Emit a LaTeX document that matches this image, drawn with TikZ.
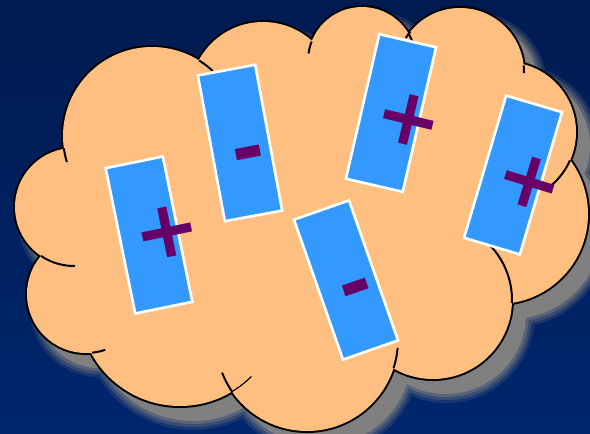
\documentclass[tikz,border=0pt]{standalone}
\usepackage{fontspec}
\setmainfont{DejaVu Sans}
\usepackage{xcolor}
\definecolor{fondoarriba}{HTML}{001B50}
\definecolor{fondoabajo}{HTML}{00266E}
\definecolor{nube}{HTML}{FFBF80}
\definecolor{azul}{HTML}{3399FF}
\definecolor{morado}{HTML}{660066}
\definecolor{sombra}{HTML}{808080}

% circulos de la nube: x/y/radio
\def\circulos{152/136/89, 263/95/73, 362/61/54, 460/72/64, 506/132/70,
  498/214/90, 433/300/79, 307/340/91, 180/305/101, 86/294/59, 74/207/59}

\begin{document}
\begin{tikzpicture}[
  x=0.3mm, y=0.3mm,
  tarjeta/.style={rectangle, draw=white, line width=0.8mm, fill=azul,
    minimum width=17.5mm, minimum height=44.5mm, inner sep=0pt},
  signo/.style={text=morado, font=\bfseries\fontsize{68}{68}\selectfont, inner sep=0pt},
  borde/.style={line width=0.6mm, black},
]

% --- Fondo ---
\fill[top color=fondoarriba, bottom color=fondoabajo] (0,0) rectangle (590,-433);
\useasboundingbox (0,0) rectangle (590,-433);

% --- Sombra ---
\begin{scope}[shift={(13,-14)}]
  \foreach \extra/\op in {10/0.2, 7/0.3, 4/0.45} {
    \fill[sombra, opacity=\op] \foreach \cx/\cy/\r in \circulos {(\cx,-\cy) circle ({\r+\extra})};
  }
  \fill[sombra] \foreach \cx/\cy/\r in \circulos {(\cx,-\cy) circle ({\r+1})};
\end{scope}

% --- Nube ---
\draw[line width=1.2mm] \foreach \cx/\cy/\r in \circulos {(\cx,-\cy) circle (\r)};
\fill[nube] \foreach \cx/\cy/\r in \circulos {(\cx,-\cy) circle (\r)}
  (74,-207) -- (86,-294) -- (180,-305) -- (307,-340) -- (433,-300) -- (498,-214)
  -- (506,-132) -- (460,-72) -- (362,-61) -- (263,-95) -- (152,-136) -- cycle;

% --- Arcos interiores ---
\foreach \cx/\cy/\r/\a/\b in {152/136/89/188/197, 152/136/89/58/47, 74/207/59/236/271,
    86/294/59/276/289, 307/340/91/201/215, 307/340/91/342/355, 433/300/79/-2/48,
    506/132/70/-24/-49, 460/72/64/6/-1, 362/61/54/31/21, 460/72/64/141/148,
    362/61/54/159/172}
  \draw[borde] (\cx,-\cy) ++(\a:\r) arc[start angle=\a, end angle=\b, radius=\r];
\draw[black, line width=0.35mm] (180,-305) ++(301:101) arc[start angle=301, end angle=315, radius=101];

% --- Tarjetas ---
\node[tarjeta, rotate=11.5] (t1) at (149,-235) {};
\node[tarjeta, rotate=10.5] (t2) at (240,-143) {};
\node[tarjeta, rotate=-13] (t3) at (391,-113) {};
\node[tarjeta, rotate=-16.5] (t4) at (513,-175) {};
\node[tarjeta, rotate=19.3] (t5) at (346,-280) {};

% --- Signos ---
\node[signo, rotate=11.5] (s1) at (167,-232) {+};
\node[signo, rotate=11] (s2) at (250,-161) {-};
\node[signo, rotate=-13.5] (s3) at (409,-120) {+};
\node[signo, rotate=-17] (s4) at (530,-182) {+};
\node[signo, rotate=19] (s5) at (358,-296) {-};

\end{tikzpicture}
\end{document}
